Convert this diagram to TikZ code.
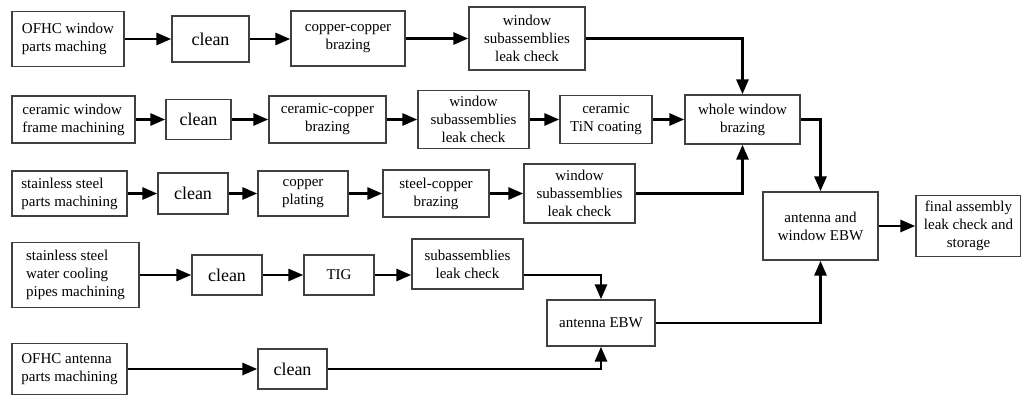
\documentclass[tikz,border=0pt]{standalone}
\usepackage{fontspec}
\setmainfont{Liberation Serif}
\usetikzlibrary{arrows.meta}
\begin{document}
\begin{tikzpicture}[x=1pt,y=-1pt,
  box/.style={draw=black!75, line width=1.4pt, inner sep=0pt, align=center,
              font=\fontsize{15}{18}\selectfont},
  lbox/.style={box, align=left},
  cbox/.style={box, font=\fontsize{18}{21}\selectfont},
  flow/.style={line width=2.9pt, -{Triangle[length=15pt,width=12pt]}}]
\useasboundingbox (0,0) rectangle (1021,396);

% window parts line
\node[lbox, minimum width=112pt, minimum height=55pt] (a1) at (68,39) {OFHC window\\parts maching};
\node[cbox, minimum width=77pt, minimum height=46pt] (a2) at (210.5,39) {clean};
\node[box, minimum width=114pt, minimum height=55pt] (a3) at (348,38.5) {copper-copper\\brazing};
\node[box, minimum width=116pt, minimum height=63pt] (a4) at (527,38.5) {window\\subassemblies\\leak check};

% ceramic window frame line
\node[lbox, minimum width=123pt, minimum height=47pt] (b1) at (73.5,119.5) {ceramic window\\frame machining};
\node[cbox, minimum width=65pt, minimum height=40pt] (b2) at (198.5,119.5) {clean};
\node[box, minimum width=117pt, minimum height=47pt] (b3) at (327.5,119.5) {ceramic-copper\\brazing};
\node[box, minimum width=111pt, minimum height=58pt] (b4) at (473.5,119.5) {window\\subassemblies\\leak check};
\node[box, minimum width=92pt, minimum height=48pt] (b5) at (606,119.5) {ceramic\\TiN coating};
\node[box, minimum width=115pt, minimum height=49pt] (W) at (742.5,119.5) {whole window\\brazing};

% stainless steel parts line
\node[lbox, minimum width=115pt, minimum height=45pt] (c1) at (69.5,193.5) {stainless steel\\parts machining};
\node[cbox, minimum width=70pt, minimum height=41pt] (c2) at (193,193.5) {clean};
\node[box, minimum width=90pt, minimum height=45pt] (c3) at (303,193.5) {copper\\plating};
\node[box, minimum width=106pt, minimum height=47pt] (c4) at (436,193.5) {steel-copper\\brazing};
\node[box, minimum width=111pt, minimum height=59pt] (c5) at (579.5,193.5) {window\\subassemblies\\leak check};

% water cooling pipes line
\node[lbox, minimum width=127pt, minimum height=65pt] (d1) at (75.5,275) {stainless steel\\water cooling\\pipes machining};
\node[cbox, minimum width=70pt, minimum height=40pt] (d2) at (227,275) {clean};
\node[box, minimum width=70pt, minimum height=40pt] (d3) at (339,275) {TIG};
\node[box, minimum width=111pt, minimum height=50pt] (d4) at (467.5,264) {subassemblies\\leak check};
\node[box, minimum width=108pt, minimum height=46pt] (AE) at (601,323) {antenna EBW};

% antenna parts line
\node[lbox, minimum width=115pt, minimum height=51pt] (e1) at (69.5,369) {OFHC antenna\\parts machining};
\node[cbox, minimum width=69pt, minimum height=40pt] (e2) at (292.5,369) {clean};

% final steps
\node[box, minimum width=115pt, minimum height=68pt] (AW) at (820.5,226) {antenna and\\window EBW};
\node[box, minimum width=105pt, minimum height=61pt] (F) at (968.5,226) {final assembly\\leak check and\\storage};

% connectors
\draw[flow] (a1.east) -- (a1.east -| a2.west);
\draw[flow] (a2.east) -- (a2.east -| a3.west);
\draw[flow] (a3.east) -- (a3.east -| a4.west);
\draw[flow] (a4.east) -| (W.north);

\draw[flow] (b1.east) -- (b1.east -| b2.west);
\draw[flow] (b2.east) -- (b2.east -| b3.west);
\draw[flow] (b3.east) -- (b3.east -| b4.west);
\draw[flow] (b4.east) -- (b4.east -| b5.west);
\draw[flow] (b5.east) -- (b5.east -| W.west);

\draw[flow] (c1.east) -- (c1.east -| c2.west);
\draw[flow] (c2.east) -- (c2.east -| c3.west);
\draw[flow] (c3.east) -- (c3.east -| c4.west);
\draw[flow] (c4.east) -- (c4.east -| c5.west);
\draw[flow] (c5.east) -| (W.south);

\draw[flow] (d1.east) -- (d1.east -| d2.west);
\draw[flow] (d2.east) -- (d2.east -| d3.west);
\draw[flow] (d3.east) -- (d3.east -| d4.west);
\draw[flow] (d3.east -| d4.east) -| (AE.north);

\draw[flow] (e1.east) -- (e1.east -| e2.west);
\draw[flow] (e2.east) -| (AE.south);

\draw[flow] (W.east) -| (AW.north);
\draw[flow] (AE.east) -| (AW.south);
\draw[flow] (AW.east) -- (AW.east -| F.west);
\end{tikzpicture}
\end{document}
